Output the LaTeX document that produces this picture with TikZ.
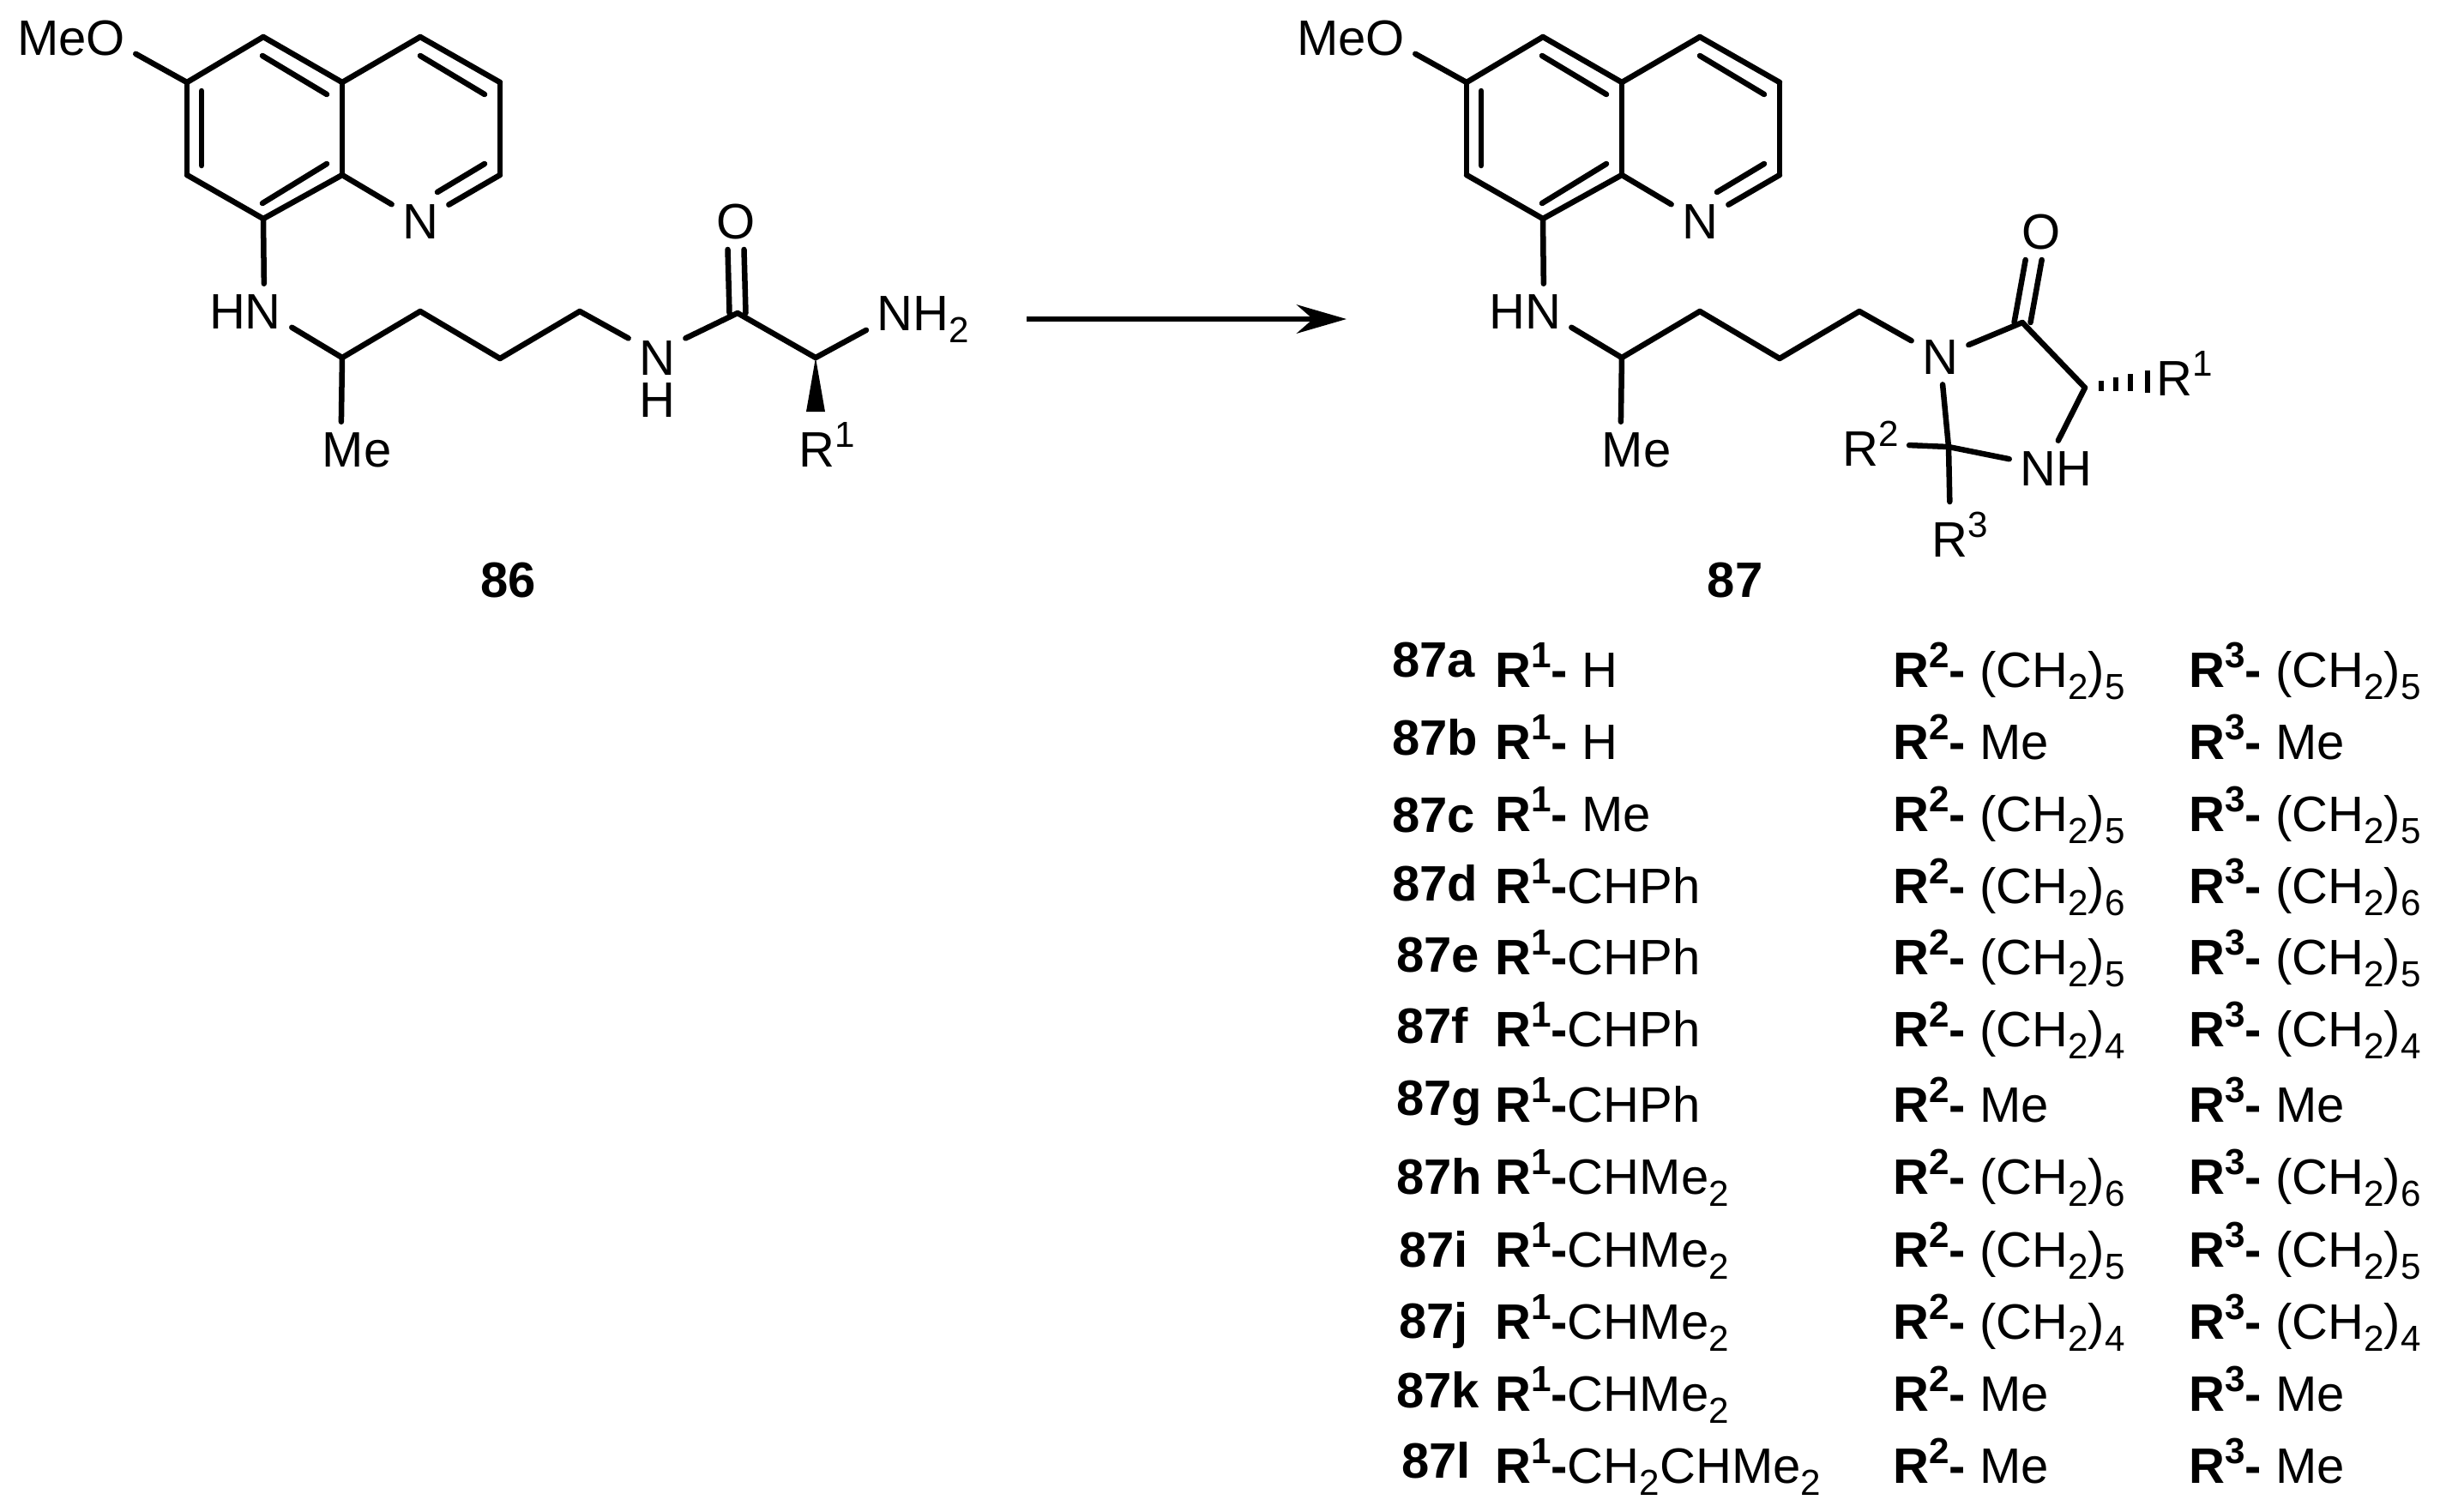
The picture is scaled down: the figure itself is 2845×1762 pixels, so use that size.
\documentclass[tikz,border=0pt]{standalone}
\usepackage{fontspec}
\setmainfont{Liberation Sans}
\usetikzlibrary{arrows.meta}

\newcommand{\supnum}[1]{\raisebox{6.3pt}{\fontsize{12pt}{12pt}\selectfont #1}}
\newcommand{\subnum}[1]{\raisebox{-4pt}{\fontsize{12pt}{12pt}\selectfont #1}}
\newcommand{\rsub}[1]{\textbf{R\supnum{#1}-}}
\newcommand{\chainn}[1]{(CH\subnum{2})\subnum{#1}}

% quinoline with its side chain, drawn twice
\newcommand{\quinolinechain}{
    % Atoms
    \coordinate (c6) at (218,96);
    \coordinate (c5) at (307,43);
    \coordinate (c4a) at (399,96);
    \coordinate (c4) at (490,43);
    \coordinate (c3) at (583,96);
    \coordinate (c2) at (583,204);
    \coordinate (c8a) at (399,204);
    \coordinate (c8) at (307,255);
    \coordinate (c7) at (218,204);
    \coordinate (ch) at (399,417);
    \coordinate (ch2a) at (490,363);
    \coordinate (ch2b) at (583,418);
    \coordinate (ch2c) at (676,363);
    \node[atom] (meo) at (83,64) {MeO};
    \node[atom] (n1) at (490,278) {N};
    \node[atom] (hn) at (286,383) {HN};
    \node[atom] (me) at (416,544) {Me};
    % Bonds
    \draw (meo.-14) -- (c6);
    \draw (c6) -- (c5);
    \draw (c5) -- (c4a);
    \draw (c4a) -- (c4);
    \draw (c4) -- (c3);
    \draw (c3) -- (c2);
    \draw (c2) -- (n1);
    \draw (n1) -- (c8a);
    \draw (c8a) -- (c4a);
    \draw (c8a) -- (c8);
    \draw (c8) -- (c7);
    \draw (c7) -- (c6);
    \draw (c8) -- (hn.56);
    \draw (hn.-19) -- (ch);
    \draw (ch) -- (me.119);
    \draw (ch) -- (ch2a);
    \draw (ch2a) -- (ch2b);
    \draw (ch2b) -- (ch2c);
    % Inner lines of the double bonds
    \draw (235,106) -- (235,193);
    \draw (306,65) -- (381,110);
    \draw (381,191) -- (306,237);
    \draw (490,65) -- (565,110);
    \draw (565,191) -- (510,224);
}

\begin{document}
\begin{tikzpicture}[x=0.01cm, y=-0.01cm, line width=1.85pt, line cap=round, line join=round,
    atom/.style = {anchor=base, inner sep=2.6pt, font=\fontsize{16.5pt}{14.2pt}\selectfont},
    compound/.style = {anchor=base, inner sep=0pt, font=\fontsize{16.5pt}{16.5pt}\selectfont\bfseries},
    rowlabel/.style = {anchor=base west, inner sep=0pt, font=\fontsize{16.5pt}{16.5pt}\selectfont\bfseries},
    rowcell/.style = {anchor=base west, inner sep=0pt, font=\fontsize{16.5pt}{16.5pt}\selectfont},
    hash/.style = {line width=1.7pt, line cap=butt}]
    \useasboundingbox (0,0) rectangle (2845,1762);

    % Compound 86
    \begin{scope}[name prefix=a-]
        \quinolinechain
    \end{scope}
    \coordinate (coa) at (860,365);
    \coordinate (caa) at (951,417);
    \node[atom, align=center, anchor=center] (nha) at (766,442) {N\\H};
    \node[atom] (oa) at (858,278) {O};
    \node[atom] (nh2a) at (1076,385) {NH\subnum{2}};
    \node[atom] (r1a) at (964,544) {R\supnum{1}};
    \draw (a-ch2c) -- (nha.125);
    \draw (nha.55) -- (coa);
    \draw ([xshift=-2.7pt]coa) -- ([xshift=-2.7pt]oa.south);
    \draw ([xshift=2.7pt]coa) -- ([xshift=2.7pt]oa.south);
    \draw (coa) -- (caa);
    \draw (caa) -- (nh2a.191);
    \fill (caa) -- (940,480) -- (962,480) -- cycle;
    \node[compound] (c86) at (593,696) {86};

    % Reaction arrow
    \coordinate (arrowstart) at (1197,372);
    \coordinate (arrowend) at (1570,372);
    \draw[-{Stealth[length=16.5pt,width=9.5pt]}, line cap=butt] (arrowstart) -- (arrowend);

    % Compound 87
    \begin{scope}[shift={(1492,0)}, name prefix=b-]
        \quinolinechain
    \end{scope}
    \coordinate (cob) at (2358,376);
    \coordinate (cab) at (2431,452);
    \coordinate (cqb) at (2272,521);
    \node[atom] (nb) at (2262,436) {N};
    \node[atom] (ob) at (2380,290) {O};
    \node[atom] (nhb) at (2397,566) {NH};
    \node[atom] (r1b) at (2547,461) {R\supnum{1}};
    \node[atom] (r2b) at (2181,543) {R\supnum{2}};
    \node[atom] (r3b) at (2285,649) {R\supnum{3}};
    \draw (b-ch2c) -- (nb);
    \draw (nb) -- (cob);
    \draw ([xshift=-2.7pt]cob) -- ([xshift=-2.7pt]ob.-105);
    \draw ([xshift=2.7pt]cob) -- ([xshift=2.7pt]ob.-105);
    \draw (cob) -- (cab);
    \draw (cab) -- (nhb.85);
    \draw (nhb) -- (cqb);
    \draw (cqb) -- (nb);
    \draw (cqb) -- (r2b);
    \draw (cqb) -- (r3b.107);
    \draw[hash] (2450,444) -- (2450,456);
    \draw[hash] (2467,440) -- (2467,456);
    \draw[hash] (2484,436) -- (2484,456);
    \draw[hash] (2504,432) -- (2504,458);
    \node[compound] (c87) at (2023,696) {87};

    % Table of substituents
    \node[rowlabel] (la) at (1620,789) {87a};
    \node[rowcell] (r1-a) at (1740,801) {\rsub{1} H};
    \node[rowcell] (r2-a) at (2204,801) {\rsub{2} \chainn{5}};
    \node[rowcell] (r3-a) at (2549,801) {\rsub{3} \chainn{5}};

    \node[rowlabel] (lb) at (1620,880) {87b};
    \node[rowcell] (r1-b) at (1740,885) {\rsub{1} H};
    \node[rowcell] (r2-b) at (2204,885) {\rsub{2} Me};
    \node[rowcell] (r3-b) at (2549,885) {\rsub{3} Me};

    \node[rowlabel] (lc) at (1620,970) {87c};
    \node[rowcell] (r1-c) at (1740,969) {\rsub{1} Me};
    \node[rowcell] (r2-c) at (2204,969) {\rsub{2} \chainn{5}};
    \node[rowcell] (r3-c) at (2549,969) {\rsub{3} \chainn{5}};

    \node[rowlabel] (ld) at (1620,1050) {87d};
    \node[rowcell] (r1-d) at (1740,1053) {\rsub{1}CHPh};
    \node[rowcell] (r2-d) at (2204,1053) {\rsub{2} \chainn{6}};
    \node[rowcell] (r3-d) at (2549,1053) {\rsub{3} \chainn{6}};

    \node[rowlabel] (le) at (1625,1133) {87e};
    \node[rowcell] (r1-e) at (1740,1136) {\rsub{1}CHPh};
    \node[rowcell] (r2-e) at (2204,1136) {\rsub{2} \chainn{5}};
    \node[rowcell] (r3-e) at (2549,1136) {\rsub{3} \chainn{5}};

    \node[rowlabel] (lf) at (1625,1216) {87f};
    \node[rowcell] (r1-f) at (1740,1220) {\rsub{1}CHPh};
    \node[rowcell] (r2-f) at (2204,1220) {\rsub{2} \chainn{4}};
    \node[rowcell] (r3-f) at (2549,1220) {\rsub{3} \chainn{4}};

    \node[rowlabel] (lg) at (1625,1300) {87g};
    \node[rowcell] (r1-g) at (1740,1308) {\rsub{1}CHPh};
    \node[rowcell] (r2-g) at (2204,1308) {\rsub{2} Me};
    \node[rowcell] (r3-g) at (2549,1308) {\rsub{3} Me};

    \node[rowlabel] (lh) at (1625,1392) {87h};
    \node[rowcell] (r1-h) at (1740,1392) {\rsub{1}CHMe\subnum{2}};
    \node[rowcell] (r2-h) at (2204,1392) {\rsub{2} \chainn{6}};
    \node[rowcell] (r3-h) at (2549,1392) {\rsub{3} \chainn{6}};

    \node[rowlabel] (li) at (1628,1477) {87i};
    \node[rowcell] (r1-i) at (1740,1477) {\rsub{1}CHMe\subnum{2}};
    \node[rowcell] (r2-i) at (2204,1477) {\rsub{2} \chainn{5}};
    \node[rowcell] (r3-i) at (2549,1477) {\rsub{3} \chainn{5}};

    \node[rowlabel] (lj) at (1628,1560) {87j};
    \node[rowcell] (r1-j) at (1740,1561) {\rsub{1}CHMe\subnum{2}};
    \node[rowcell] (r2-j) at (2204,1561) {\rsub{2} \chainn{4}};
    \node[rowcell] (r3-j) at (2549,1561) {\rsub{3} \chainn{4}};

    \node[rowlabel] (lk) at (1625,1641) {87k};
    \node[rowcell] (r1-k) at (1740,1645) {\rsub{1}CHMe\subnum{2}};
    \node[rowcell] (r2-k) at (2204,1645) {\rsub{2} Me};
    \node[rowcell] (r3-k) at (2549,1645) {\rsub{3} Me};

    \node[rowlabel] (ll) at (1631,1723) {87l};
    \node[rowcell] (r1-l) at (1740,1729) {\rsub{1}CH\subnum{2}CHMe\subnum{2}};
    \node[rowcell] (r2-l) at (2204,1729) {\rsub{2} Me};
    \node[rowcell] (r3-l) at (2549,1729) {\rsub{3} Me};
\end{tikzpicture}
\end{document}
